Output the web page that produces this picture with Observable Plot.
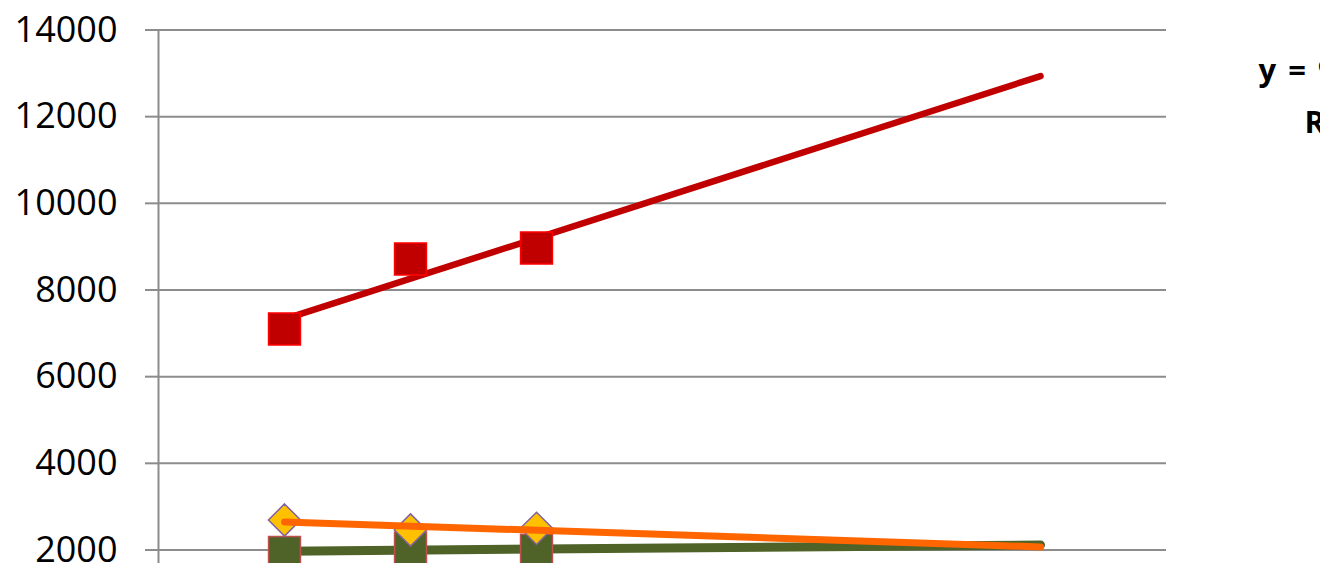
<!DOCTYPE html>
<html><head><meta charset="utf-8">
<script src="https://cdn.jsdelivr.net/npm/d3@7"></script>
<script src="https://cdn.jsdelivr.net/npm/@observablehq/plot@0.6"></script>
<style>html,body{margin:0;padding:0;background:#fff;overflow:hidden}#chart svg{display:block}</style>
</head><body><div id="chart"></div>
<script>
// ---- data ----
const periods = [1, 2, 3];
const forecastEnd = 7;
const xDomain = [0, 8];
const seriesRed = [7100, 8715, 8970];
const seriesGreen = [1945, 2050, 1993];
const seriesOrange = [2692, 2462, 2500];
const yTicks = [2000, 4000, 6000, 8000, 10000, 12000, 14000];
const yAxisBase = 0;

// ---- helpers ----
function fit(xs, ys) {
  const mx = d3.mean(xs), my = d3.mean(ys);
  const sxy = d3.sum(xs, (x, i) => (x - mx) * (ys[i] - my));
  const sxx = d3.sum(xs, x => (x - mx) ** 2);
  const slope = sxy / sxx, intercept = my - slope * mx;
  const sst = d3.sum(ys, y => (y - my) ** 2);
  const sse = d3.sum(xs, (x, i) => (ys[i] - (intercept + slope * x)) ** 2);
  return {slope, intercept, r2: 1 - sse / sst};
}
const pts = ys => periods.map((x, i) => ({x, y: ys[i]}));
const trend = ys => { const f = fit(periods, ys); return [periods[0], forecastEnd].map(x => ({x, y: f.intercept + f.slope * x})); };

const fr = fit(periods, seriesRed);
const eqLine = `y = ${d3.format(".4~f")(fr.slope)}x + ${d3.format(".1f")(fr.intercept)}`;
const r2Line = `R² = ${d3.format(".4f")(fr.r2)}`;

const grid = "#8c8c8c";

const chart = Plot.plot({
  width: 1320, height: 563,
  marginLeft: 158, marginRight: 154, marginTop: 29.5, marginBottom: 13.5,
  style: {fontFamily: "'Open Sans', sans-serif", background: "#fff"},
  x: {domain: xDomain, axis: null},
  y: {domain: [yTicks[0], yTicks[yTicks.length - 1]], axis: null},
  marks: [
    Plot.ruleY(yTicks, {stroke: grid, strokeWidth: 2}),
    Plot.ruleX([{x: xDomain[0], y1: yAxisBase, y2: yTicks[yTicks.length - 1]}], {x: "x", y1: "y1", y2: "y2", stroke: grid, strokeWidth: 2}),
    Plot.axisY(yTicks, {tickFormat: d3.format("d"), tickSize: 13, tickPadding: 28, fontSize: 36, stroke: grid, strokeWidth: 2, fill: "#000", label: null}),
    // red series
    Plot.line(trend(seriesRed), {x: "x", y: "y", stroke: "#C00000", strokeWidth: 6.5, strokeLinecap: "round"}),
    Plot.dot(pts(seriesRed), {x: "x", y: "y", symbol: "square", r: 18, fill: "#C00000", stroke: "#FF0000", strokeWidth: 1.5}),
    // green series
    Plot.line(trend(seriesGreen), {x: "x", y: "y", stroke: "#4F6228", strokeWidth: 9, strokeLinecap: "round"}),
    Plot.dot(pts(seriesGreen), {x: "x", y: "y", symbol: "square", r: 18, fill: "#4F6228", stroke: "#C0504D", strokeWidth: 1.5}),
    // orange series
    Plot.dot(pts(seriesOrange), {x: "x", y: "y", symbol: "diamond2", r: 14.5, fill: "#FFC000", stroke: "#8064A2", strokeWidth: 1.5}),
    Plot.line(trend(seriesOrange), {x: "x", y: "y", stroke: "#FF6600", strokeWidth: 7, strokeLinecap: "round"}),
    // trendline equation
    Plot.text([eqLine], {text: d => d, frameAnchor: "top-right", dx: 92, dy: 50.5, textAnchor: "start", lineAnchor: "bottom", fontSize: 31, fontWeight: "bold", fill: "#000", style: "word-spacing:3px"}),
    Plot.text([r2Line], {text: d => d, frameAnchor: "top-right", dx: 138, dy: 102.5, textAnchor: "start", lineAnchor: "bottom", fontSize: 31, fontWeight: "bold", fill: "#000"})
  ]
});
chart.querySelectorAll("text").forEach(t => { if (t.textContent.startsWith("y =")) t.style.wordSpacing = "4px"; });
document.getElementById("chart").appendChild(chart);
</script>
</body></html>
